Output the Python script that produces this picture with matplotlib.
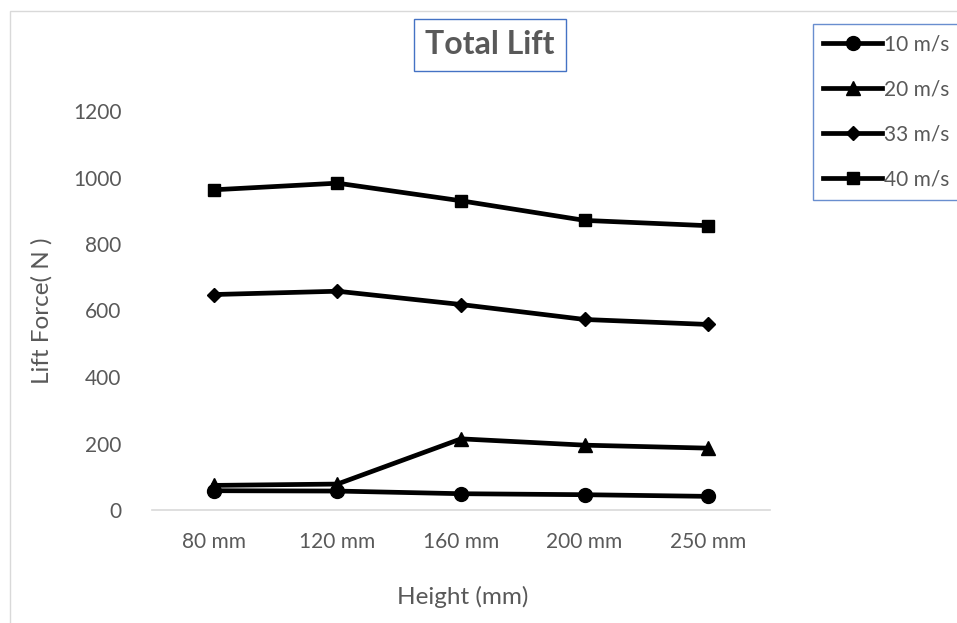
import matplotlib.pyplot as plt
from matplotlib.patches import Rectangle

# Data
heights = ['80 mm', '120 mm', '160 mm', '200 mm', '250 mm']
lift_10 = [58, 57, 49, 46, 41]
lift_20 = [74, 78, 214, 195, 186]
lift_33 = [648, 658, 618, 573, 558]
lift_40 = [963, 983, 930, 871, 855]
series_labels = ['10 m/s', '20 m/s', '33 m/s', '40 m/s']
y_ticks = [0, 200, 400, 600, 800, 1000, 1200]

plt.rcParams['font.family'] = ['Lato', 'DejaVu Sans']
grey = '#595959'
blue = '#4472C4'

W, H = 957, 623
fig = plt.figure(figsize=(W / 100, H / 100), dpi=100)

# plot area in pixels: x 152..770, y 111..510
ax = fig.add_axes([152 / W, 1 - 510 / H, (770 - 152) / W, (510 - 111) / H])

# outer chart frame (only top and left visible)
fig.patches.append(Rectangle((10 / W, -0.1), 1.2, 1.1 - 11 / H, transform=fig.transFigure,
                             fill=False, edgecolor='#d9d9d9', linewidth=1))

x = range(len(heights))
style = dict(color='black', linewidth=3.4)
ax.plot(x, lift_10, marker='o', markersize=10, label=series_labels[0], **style)
ax.plot(x, lift_20, marker='^', markersize=10, label=series_labels[1], **style)
ax.plot(x, lift_33, marker='D', markersize=7, label=series_labels[2], **style)
ax.plot(x, lift_40, marker='s', markersize=9, label=series_labels[3], **style)

ax.set_xlim(-0.5, len(heights) - 0.5)
ax.set_ylim(0, 1200)
ax.set_xticks(list(x))
ax.set_xticklabels(heights)
ax.set_yticks(y_ticks)
ax.tick_params(length=0, labelsize=15, colors=grey)
ax.tick_params(axis='x', pad=16)
ax.tick_params(axis='y', pad=22)
for side in ['top', 'right', 'left']:
    ax.spines[side].set_visible(False)
ax.spines['bottom'].set_color('#d9d9d9')
ax.spines['bottom'].set_linewidth(1.2)

fig.text(42 / W, 1 - 311 / H, 'Lift Force( N )', rotation=90, ha='center', va='center',
         fontsize=17.5, color=grey)
fig.text(463 / W, 1 - 597 / H, 'Height (mm)', ha='center', va='center',
         fontsize=17.5, color=grey)

fig.text(490 / W, 1 - 45 / H, 'Total Lift', ha='center', va='center', fontsize=23,
         fontweight='bold', color=grey,
         bbox=dict(boxstyle='square,pad=0.36', facecolor='white', edgecolor=blue, linewidth=1))

leg = fig.legend(loc='upper left', bbox_to_anchor=(813 / W, 1 - 24 / H), fontsize=15,
                 frameon=True, fancybox=False, handlelength=2.8, handletextpad=0.1,
                 labelspacing=1.2, borderpad=0.5, borderaxespad=0)
leg.get_frame().set_edgecolor(blue)
leg.get_frame().set_linewidth(1)
for t in leg.get_texts():
    t.set_color(grey)

fig.savefig('out.png', dpi=100)
